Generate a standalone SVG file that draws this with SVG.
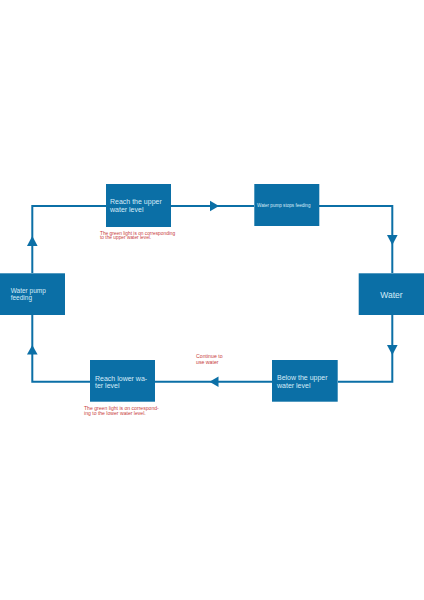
<svg xmlns="http://www.w3.org/2000/svg" width="424" height="600" viewBox="0 0 424 600">
<style>
.box{fill:#0b6fa6}
.lbl{font-family:"Liberation Sans",Arial,sans-serif;fill:#d6ecf8}
.note{font-family:"Liberation Sans",Arial,sans-serif;fill:#c8403c}
.ln{fill:none;stroke:#0b6fa6;stroke-width:2}
.ah{fill:#0b6fa6}
</style>
<rect width="424" height="600" fill="#ffffff"/>
<g id="connectors">
<path class="ln" d="M32.3,273 V206 H106"/>
<polygon class="ah" points="32.3,236 27,246 37.6,246"/>
<path class="ln" d="M171,206 H254"/>
<polygon class="ah" points="219,206 210,200.7 210,211.3"/>
<path class="ln" d="M319,206 H392.3 V273"/>
<polygon class="ah" points="392.3,245 387,235 397.6,235"/>
<path class="ln" d="M392.3,315 V381.7 H338"/>
<polygon class="ah" points="392.3,355 387,345 397.6,345"/>
<path class="ln" d="M272,381.7 H155"/>
<polygon class="ah" points="209.5,381.7 218.5,376.4 218.5,387"/>
<path class="ln" d="M90,381.7 H32.3 V315"/>
<polygon class="ah" points="32.3,345 27,354.5 37.6,354.5"/>
</g>
<g id="upper">
<rect class="box" x="106" y="184" width="65" height="43"/>
<text class="lbl" x="110" y="204" font-size="7">Reach the upper</text>
<text class="lbl" x="110" y="211.5" font-size="7">water level</text>
<text class="note" x="100" y="234.5" font-size="4.8">The green light is on corresponding</text>
<text class="note" x="100" y="238.8" font-size="4.8">to the upper water level.</text>
</g>
<g id="stops">
<rect class="box" x="254.3" y="184" width="65" height="42"/>
<text class="lbl" x="257" y="206.8" font-size="4.6">Water pump stops feeding</text>
</g>
<g id="feeding">
<rect class="box" x="0" y="273.3" width="65" height="41.7"/>
<text class="lbl" x="10.7" y="292.7" font-size="6.5">Water pump</text>
<text class="lbl" x="10.7" y="299.5" font-size="6.5">feeding</text>
</g>
<g id="water">
<rect class="box" x="358.7" y="273.3" width="65.3" height="41.7"/>
<text class="lbl" x="391.5" y="297.5" font-size="8.5" text-anchor="middle">Water</text>
</g>
<g id="below">
<rect class="box" x="272" y="360" width="65.7" height="41.7"/>
<text class="lbl" x="277" y="380" font-size="7">Below the upper</text>
<text class="lbl" x="277" y="387.5" font-size="7">water level</text>
</g>
<g id="lower">
<rect class="box" x="90" y="360" width="65" height="41.7"/>
<text class="lbl" x="95" y="381" font-size="7">Reach lower wa-</text>
<text class="lbl" x="95" y="387.5" font-size="7">ter level</text>
<text class="note" x="84" y="410" font-size="5.1">The green light is on correspond-</text>
<text class="note" x="84" y="415" font-size="5.1">ing to the lower water level.</text>
</g>
<g id="continue">
<text class="note" x="196" y="358.3" font-size="5.2">Continue to</text>
<text class="note" x="196" y="363.5" font-size="5.2">use water</text>
</g>
</svg>
